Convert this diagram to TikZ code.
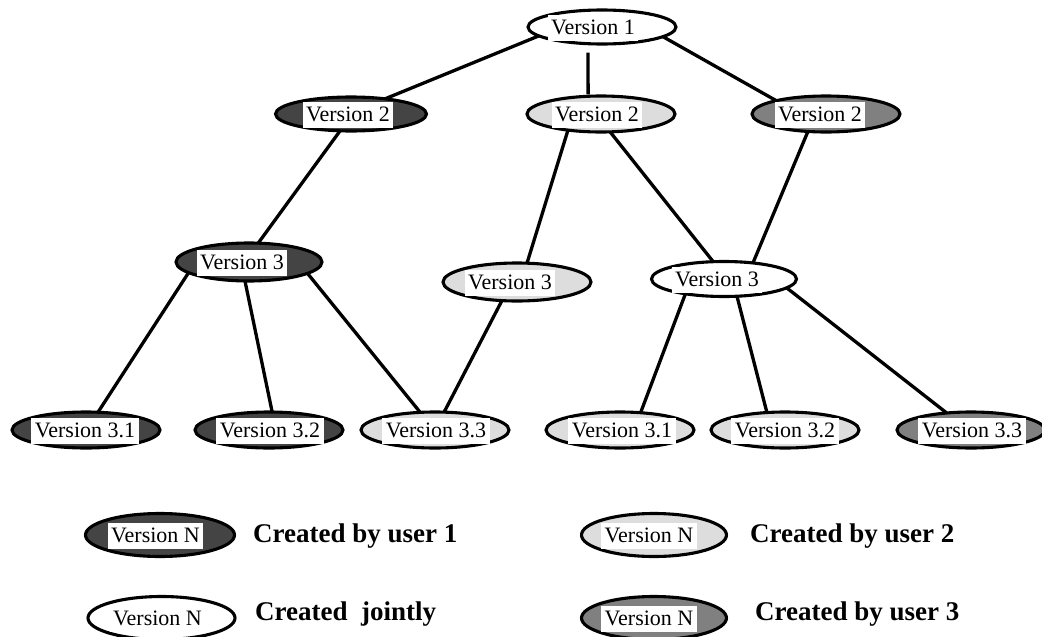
\documentclass[tikz,border=0pt]{standalone}
\usepackage{fontspec}
\setmainfont{Liberation Serif}
\usetikzlibrary{shapes.geometric,backgrounds}

\definecolor{userone}{HTML}{444444}
\definecolor{usertwo}{HTML}{DDDDDD}
\definecolor{userthree}{HTML}{808080}

\tikzset{
  ver/.style={ellipse, draw=black, line width=3.1pt, inner sep=0pt, outer sep=0pt,
              minimum width=148pt, minimum height=36pt},
  byone/.style={ver, fill=userone},
  bytwo/.style={ver, fill=usertwo},
  bythree/.style={ver, fill=userthree},
  joint/.style={ver, fill=white},
  vlabel/.style={fill=white, inner xsep=3.5pt, inner ysep=1pt,
                 text height=18.7pt, text depth=5.3pt,
                 font=\fontsize{22}{26}\selectfont},
  link/.style={line width=3.3pt},
  legendtext/.style={anchor=base west, inner sep=0pt,
                     font=\fontsize{27}{32}\selectfont\bfseries},
}

% #1 name, #2 ellipse style, #3 x, #4 y, #5 label shift, #6 label
\newcommand\versionnode[6]{%
  \node[#2] (#1) at (#3,#4) {};
  \node[vlabel, xshift=#5pt, yshift=-1pt] (#1-lbl) at (#1.center) {#6};}

\begin{document}
\begin{tikzpicture}[x=1pt, y=-1pt]
\useasboundingbox (0,0) rectangle (1042,637);

% version tree
\versionnode{v1}{joint, minimum height=34pt}{602}{27}{-9}{Version 1}

\versionnode{v2a}{byone, minimum width=151pt, minimum height=34pt}{351}{114}{-3}{Version 2}
\versionnode{v2b}{bytwo}{601}{114}{-4}{Version 2}
\versionnode{v2c}{bythree}{826}{114}{-6}{Version 2}

\versionnode{v3a}{byone, minimum width=146pt, minimum height=38pt}{249}{262}{-7}{Version 3}
\versionnode{v3b}{bytwo, minimum height=38pt}{517}{282}{-7}{Version 3}
\versionnode{v3c}{joint, minimum width=145pt, minimum height=35pt}{724}{279}{-7}{Version 3}

\versionnode{b1}{byone}{86}{430}{-1}{Version 3.1}
\versionnode{b2}{byone}{269}{430}{1}{Version 3.2}
\versionnode{b3}{bytwo}{435}{430}{1}{Version 3.3}
\versionnode{b4}{bytwo}{620}{430}{2}{Version 3.1}
\versionnode{b5}{bytwo}{785}{430}{0}{Version 3.2}
\versionnode{b6}{bythree}{971}{430}{1}{Version 3.3}

% legend
\versionnode{l1}{byone, minimum width=149pt, minimum height=43pt}{160}{535}{-4.5}{Version N}
\versionnode{l2}{bytwo, minimum width=145pt, minimum height=43pt}{654}{535}{-5}{Version N}
\versionnode{l3}{joint, minimum width=147pt, minimum height=43pt}{161.5}{618}{-4}{Version N}
\versionnode{l4}{bythree, minimum width=145pt, minimum height=43pt}{654}{618}{-5}{Version N}

\node[legendtext] (t1) at (253,542) {Created by user 1};
\node[legendtext] (t2) at (750,542) {Created by user 2};
\node[legendtext] (t3) at (255,620) {Created~\ jointly};
\node[legendtext] (t4) at (755,620) {Created by user 3};

% derivation links
\begin{scope}[on background layer]
  \fill[white] (0,0) rectangle (1042,637);
  \draw[link] (v1.188) -- (v2a.24);
  \draw[link, shorten <=9pt, shorten >=2pt] (v1.230) -- (v2b.126);
  \draw[link] (v1.351) -- (v2c.165);
  \draw[link] (v2a.237) -- (v3a.64);
  \draw[link] (v2b.206) -- (v3b.62);
  \draw[link] (v2b.297) -- (v3c.122);
  \draw[link] (v2c.224) -- (v3c.29);
  \draw[link] (v3a.190) -- (b1.56);
  \draw[link] (v3a.258) -- (b2.80);
  \draw[link] (v3a.349) -- (b3.130);
  \draw[link] (v3b.231) -- (b3.63);
  \draw[link] (v3c.201) -- (b4.40);
  \draw[link] (v3c.307) -- (b5.136);
  \draw[link] (v3c.352) -- (b6.145);
\end{scope}
\end{tikzpicture}
\end{document}
